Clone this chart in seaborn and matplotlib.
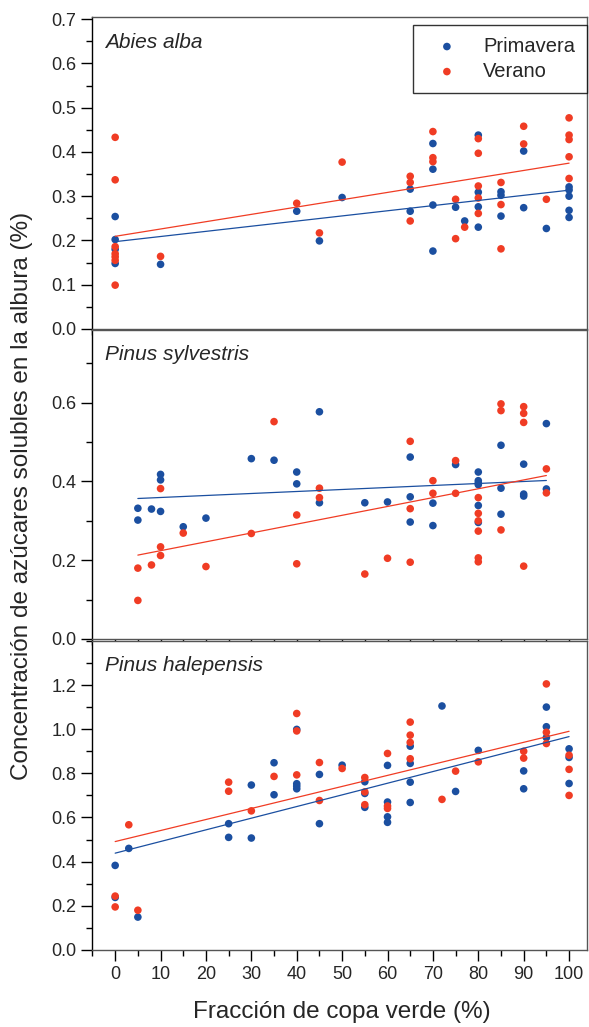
import numpy as np
import pandas as pd
import seaborn as sns
import matplotlib.pyplot as plt
from matplotlib.ticker import MultipleLocator

sns.set_style("ticks")
plt.rcParams['font.family'] = ['Liberation Sans', 'DejaVu Sans']

# Abies alba
abies_pri_x = [0, 0, 0, 0, 10, 40, 45, 50, 65, 65, 70, 70, 70, 70, 75, 77, 80, 80, 80, 80,
               85, 85, 85, 90, 90, 95, 100, 100, 100, 100, 100]
abies_pri_y = [0.254, 0.202, 0.180, 0.148, 0.146, 0.266, 0.199, 0.297, 0.316, 0.266,
               0.419, 0.361, 0.280, 0.176, 0.275, 0.244, 0.438, 0.309, 0.276, 0.230,
               0.310, 0.302, 0.255, 0.402, 0.274, 0.227, 0.321, 0.314, 0.300, 0.268, 0.252]
abies_ver_x = [0, 0, 0, 0, 0, 0, 0, 10, 40, 45, 50, 65, 65, 65, 70, 70, 70, 75, 75, 77,
               80, 80, 80, 80, 80, 85, 85, 85, 90, 90, 95, 100, 100, 100, 100, 100]
abies_ver_y = [0.433, 0.337, 0.186, 0.170, 0.163, 0.155, 0.099, 0.164, 0.284, 0.217, 0.377,
               0.345, 0.331, 0.244, 0.446, 0.387, 0.378, 0.293, 0.204, 0.230,
               0.430, 0.397, 0.323, 0.296, 0.261, 0.331, 0.281, 0.181, 0.458, 0.418, 0.293,
               0.477, 0.438, 0.428, 0.389, 0.340]

# Pinus sylvestris
sylv_pri_x = [5, 5, 8, 10, 10, 10, 15, 20, 30, 35, 40, 40, 45, 45, 55, 60, 65, 65, 65,
              70, 70, 75, 80, 80, 80, 80, 80, 80, 85, 85, 85, 90, 90, 90, 95, 95]
sylv_pri_y = [0.332, 0.302, 0.330, 0.418, 0.404, 0.324, 0.285, 0.307, 0.458, 0.454,
              0.424, 0.394, 0.577, 0.346, 0.346, 0.348, 0.462, 0.361, 0.297, 0.345, 0.288,
              0.443, 0.424, 0.402, 0.396, 0.392, 0.339, 0.296, 0.492, 0.383, 0.317,
              0.444, 0.368, 0.363, 0.547, 0.381]
sylv_ver_x = [5, 5, 8, 10, 10, 10, 15, 20, 30, 35, 40, 40, 45, 45, 55, 60, 65, 65, 65,
              70, 70, 75, 75, 80, 80, 80, 80, 80, 80, 85, 85, 85, 90, 90, 90, 90, 95, 95]
sylv_ver_y = [0.180, 0.098, 0.188, 0.382, 0.234, 0.212, 0.269, 0.184, 0.268, 0.552,
              0.315, 0.191, 0.383, 0.359, 0.165, 0.205, 0.502, 0.331, 0.195, 0.402, 0.370,
              0.453, 0.370, 0.359, 0.319, 0.300, 0.274, 0.206, 0.196, 0.597, 0.580, 0.277,
              0.590, 0.573, 0.550, 0.185, 0.432, 0.371]

# Pinus halepensis
hal_pri_x = [0, 0, 3, 5, 25, 25, 30, 30, 35, 35, 40, 40, 40, 40, 45, 45, 50, 55, 55, 55,
             60, 60, 60, 60, 65, 65, 65, 65, 72, 75, 80, 90, 90, 95, 95, 95, 100, 100, 100]
hal_pri_y = [0.383, 0.238, 0.460, 0.149, 0.572, 0.510, 0.747, 0.507, 0.848, 0.703,
             0.999, 0.753, 0.742, 0.730, 0.795, 0.572, 0.837, 0.762, 0.709, 0.646,
             0.836, 0.670, 0.603, 0.578, 0.923, 0.845, 0.760, 0.668, 1.105, 0.718, 0.904,
             0.811, 0.730, 1.100, 1.011, 0.962, 0.911, 0.872, 0.754]
hal_ver_x = [0, 0, 3, 5, 25, 25, 30, 35, 40, 40, 40, 45, 45, 50, 55, 55, 55, 60, 60, 60,
             65, 65, 65, 65, 72, 75, 80, 90, 90, 95, 95, 95, 100, 100, 100]
hal_ver_y = [0.244, 0.195, 0.567, 0.180, 0.760, 0.719, 0.630, 0.786, 1.071, 0.992, 0.793,
             0.849, 0.677, 0.822, 0.781, 0.716, 0.658, 0.890, 0.652, 0.641,
             1.032, 0.973, 0.940, 0.866, 0.682, 0.810, 0.852, 0.900, 0.869,
             1.205, 0.986, 0.935, 0.882, 0.818, 0.700]

species = ["Abies alba", "Pinus sylvestris", "Pinus halepensis"]
data = [(abies_pri_x, abies_pri_y, abies_ver_x, abies_ver_y),
        (sylv_pri_x, sylv_pri_y, sylv_ver_x, sylv_ver_y),
        (hal_pri_x, hal_pri_y, hal_ver_x, hal_ver_y)]

blue = "#1b4fa0"
red = "#f03c24"

fig = plt.figure(figsize=(5.89, 10.27), dpi=100)
left, width = 0.157, 0.84
ax1 = fig.add_axes([left, 0.6797, width, 0.3038])
ax2 = fig.add_axes([left, 0.3778, width, 0.3010])
ax3 = fig.add_axes([left, 0.0750, width, 0.3010])
axes = [ax1, ax2, ax3]

ylims = [(0, 0.705), (0, 0.785), (0, 1.4)]
ylabeled = [[0, 0.1, 0.2, 0.3, 0.4, 0.5, 0.6, 0.7],
            [0, 0.2, 0.4, 0.6],
            [0, 0.2, 0.4, 0.6, 0.8, 1.0, 1.2]]
yminor = [0.05, 0.1, 0.1]

for i, ax in enumerate(axes):
    px, py, vx, vy = data[i]
    ax.scatter(px, py, s=30, color=blue, edgecolors="none", label="Primavera", zorder=3)
    ax.scatter(vx, vy, s=30, color=red, edgecolors="none", label="Verano", zorder=3)
    sns.regplot(x=np.array(px), y=np.array(py), ax=ax, scatter=False, ci=None,
                truncate=True, line_kws={"color": blue, "lw": 0.9, "zorder": 4})
    sns.regplot(x=np.array(vx), y=np.array(vy), ax=ax, scatter=False, ci=None,
                truncate=True, line_kws={"color": red, "lw": 0.9, "zorder": 4})
    ax.set_xlim(-5, 104)
    ax.set_ylim(*ylims[i])
    ax.xaxis.set_major_locator(MultipleLocator(10))
    ax.xaxis.set_minor_locator(MultipleLocator(5))
    ax.set_yticks(ylabeled[i])
    ax.set_yticklabels(["{:.1f}".format(v) for v in ylabeled[i]])
    ax.yaxis.set_minor_locator(MultipleLocator(yminor[i]))
    ax.tick_params(axis="both", which="major", direction="out", length=8, width=1,
                   labelsize=13, color="black")
    ax.tick_params(axis="both", which="minor", direction="out", length=4, width=1,
                   color="black")
    ax.tick_params(axis="y", which="both", right=False)
    ax.tick_params(axis="x", which="both", top=False)
    ax.set_xlabel("")
    ax.set_ylabel("")
    for side in ax.spines:
        ax.spines[side].set_visible(True)
        ax.spines[side].set_linewidth(1.0)
        ax.spines[side].set_color("#555555")
    ax.spines["left"].set_color("black")
    ax.text(0.025, 0.95, species[i], transform=ax.transAxes, style="italic",
            fontsize=15, va="top", ha="left")
    if i < 2:
        ax.tick_params(axis="x", labelbottom=False)

ax3.set_xticklabels([str(v) for v in range(-10, 111, 10)])
ax3.set_xlim(-5, 104)

leg = ax1.legend(loc="upper right", bbox_to_anchor=(1.0, 0.975), borderaxespad=0,
                 fontsize=14.5, frameon=True, fancybox=False, edgecolor="black",
                 handletextpad=0.7, borderpad=0.6, labelspacing=0.3, markerscale=1.0,
                 handlelength=2.2)
leg.get_frame().set_linewidth(1.0)

fig.text(0.038, 0.517, "Concentración de azúcares solubles en la albura (%)",
         rotation=90, fontsize=17.5, va="center", ha="center")
fig.text(0.58, 0.0146, "Fracción de copa verde (%)", fontsize=17.5,
         ha="center", va="center")

fig.savefig("out.png", dpi=100)
